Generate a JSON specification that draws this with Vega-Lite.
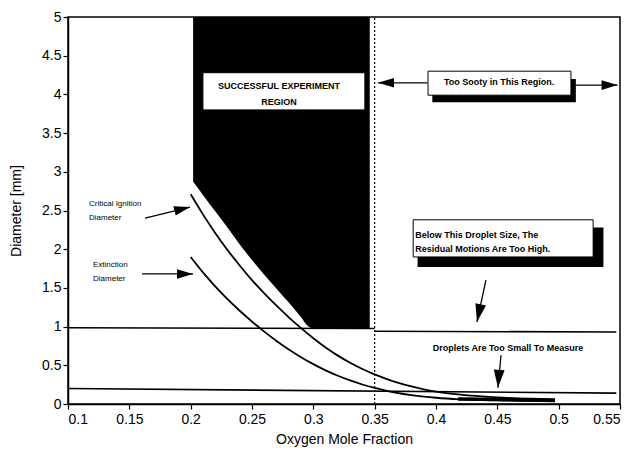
{
  "$schema": "https://vega.github.io/schema/vega-lite/v6.json",
  "width": 552,
  "height": 387,
  "autosize": {"type": "none"},
  "padding": {"left": 68, "top": 17, "right": 18, "bottom": 47},
  "background": "white",
  "config": {
    "view": {"stroke": "black", "strokeWidth": 1.5},
    "font": "Liberation Sans",
    "axis": {
      "grid": false,
      "labelFont": "Liberation Sans",
      "labelFontSize": 14,
      "labelColor": "black",
      "titleFont": "Liberation Sans",
      "titleFontSize": 14,
      "titleFontWeight": "normal",
      "titleColor": "black",
      "domainColor": "black",
      "domainWidth": 1.5,
      "tickColor": "black",
      "tickSize": 5,
      "tickWidth": 1.2
    }
  },
  "datasets": {
    "region": [
      {"x": 0.202, "y": 5, "y2": 2.87},
      {"x": 0.21, "y": 5, "y2": 2.7},
      {"x": 0.22, "y": 5, "y2": 2.49},
      {"x": 0.23, "y": 5, "y2": 2.28},
      {"x": 0.24, "y": 5, "y2": 2.06},
      {"x": 0.25, "y": 5, "y2": 1.86},
      {"x": 0.26, "y": 5, "y2": 1.67},
      {"x": 0.27, "y": 5, "y2": 1.49},
      {"x": 0.28, "y": 5, "y2": 1.31},
      {"x": 0.29, "y": 5, "y2": 1.12},
      {"x": 0.296, "y": 5, "y2": 1.0},
      {"x": 0.299, "y": 5, "y2": 0.98},
      {"x": 0.346, "y": 5, "y2": 0.98}
    ],
    "curves": [
      {"curve": "Critical Ignition", "x": 0.2, "y": 2.71},
      {"curve": "Critical Ignition", "x": 0.21, "y": 2.45},
      {"curve": "Critical Ignition", "x": 0.22, "y": 2.21},
      {"curve": "Critical Ignition", "x": 0.23, "y": 1.99},
      {"curve": "Critical Ignition", "x": 0.24, "y": 1.79},
      {"curve": "Critical Ignition", "x": 0.25, "y": 1.6},
      {"curve": "Critical Ignition", "x": 0.26, "y": 1.43},
      {"curve": "Critical Ignition", "x": 0.27, "y": 1.27},
      {"curve": "Critical Ignition", "x": 0.28, "y": 1.12},
      {"curve": "Critical Ignition", "x": 0.29, "y": 0.98},
      {"curve": "Critical Ignition", "x": 0.3, "y": 0.85},
      {"curve": "Critical Ignition", "x": 0.31, "y": 0.73},
      {"curve": "Critical Ignition", "x": 0.32, "y": 0.625},
      {"curve": "Critical Ignition", "x": 0.33, "y": 0.533},
      {"curve": "Critical Ignition", "x": 0.34, "y": 0.452},
      {"curve": "Critical Ignition", "x": 0.35, "y": 0.382},
      {"curve": "Critical Ignition", "x": 0.36, "y": 0.322},
      {"curve": "Critical Ignition", "x": 0.37, "y": 0.271},
      {"curve": "Critical Ignition", "x": 0.38, "y": 0.227},
      {"curve": "Critical Ignition", "x": 0.39, "y": 0.19},
      {"curve": "Critical Ignition", "x": 0.4, "y": 0.16},
      {"curve": "Critical Ignition", "x": 0.42, "y": 0.12},
      {"curve": "Critical Ignition", "x": 0.45, "y": 0.085},
      {"curve": "Critical Ignition", "x": 0.497, "y": 0.06},
      {"curve": "Extinction", "x": 0.2, "y": 1.9},
      {"curve": "Extinction", "x": 0.21, "y": 1.7},
      {"curve": "Extinction", "x": 0.22, "y": 1.52},
      {"curve": "Extinction", "x": 0.23, "y": 1.355},
      {"curve": "Extinction", "x": 0.24, "y": 1.205},
      {"curve": "Extinction", "x": 0.25, "y": 1.065},
      {"curve": "Extinction", "x": 0.26, "y": 0.935},
      {"curve": "Extinction", "x": 0.27, "y": 0.815},
      {"curve": "Extinction", "x": 0.28, "y": 0.705},
      {"curve": "Extinction", "x": 0.29, "y": 0.605},
      {"curve": "Extinction", "x": 0.3, "y": 0.515},
      {"curve": "Extinction", "x": 0.31, "y": 0.435},
      {"curve": "Extinction", "x": 0.32, "y": 0.365},
      {"curve": "Extinction", "x": 0.33, "y": 0.305},
      {"curve": "Extinction", "x": 0.34, "y": 0.252},
      {"curve": "Extinction", "x": 0.35, "y": 0.207},
      {"curve": "Extinction", "x": 0.36, "y": 0.169},
      {"curve": "Extinction", "x": 0.37, "y": 0.139},
      {"curve": "Extinction", "x": 0.38, "y": 0.115},
      {"curve": "Extinction", "x": 0.39, "y": 0.096},
      {"curve": "Extinction", "x": 0.4, "y": 0.081},
      {"curve": "Extinction", "x": 0.42, "y": 0.061},
      {"curve": "Extinction", "x": 0.45, "y": 0.046},
      {"curve": "Extinction", "x": 0.497, "y": 0.035}
    ],
    "thick": [
      {"x": 0.418, "y": 0.065},
      {"x": 0.497, "y": 0.05}
    ],
    "hlines": [
      {"x": 0.1, "y": 0.985, "x2": 0.35, "y2": 0.975},
      {"x": 0.35, "y": 0.94, "x2": 0.547, "y2": 0.93},
      {"x": 0.1, "y": 0.2, "x2": 0.547, "y2": 0.14}
    ],
    "vline": [
      {"x": 0.35, "y": 0, "y2": 5}
    ],
    "shadows": [
      {"box": "sooty", "x": 0.397, "x2": 0.514, "y": 3.9, "y2": 4.2},
      {"box": "below", "x": 0.385, "x2": 0.5365, "y": 1.77, "y2": 2.28}
    ],
    "boxes": [
      {"box": "success", "x": 0.21, "x2": 0.342, "y": 3.8, "y2": 4.28},
      {"box": "sooty", "x": 0.3935, "x2": 0.51, "y": 3.99, "y2": 4.3},
      {"box": "below", "x": 0.3814, "x2": 0.5281, "y": 1.9, "y2": 2.38}
    ],
    "boldCentered": [
      {"label": "SUCCESSFUL EXPERIMENT", "x": 0.272, "y": 4.11},
      {"label": "REGION", "x": 0.272, "y": 3.9},
      {"label": "Too Sooty in This Region.", "x": 0.4515, "y": 4.16},
      {"label": "Droplets Are Too Small To Measure", "x": 0.4587, "y": 0.72}
    ],
    "boldLeft": [
      {"label": "Below This Droplet Size, The", "x": 0.383, "y": 2.18},
      {"label": "Residual Motions Are Too High.", "x": 0.383, "y": 2.0}
    ],
    "smallLeft": [
      {"label": "Critical Ignition", "x": 0.1171, "y": 2.58},
      {"label": "Diameter", "x": 0.1171, "y": 2.4},
      {"label": "Extinction", "x": 0.1204, "y": 1.8},
      {"label": "Diameter", "x": 0.1204, "y": 1.61}
    ],
    "arrows": [
      {"arrow": "crit", "x": 0.1995, "y": 2.545, "x2": 0.1628, "y2": 2.4},
      {"arrow": "ext", "x": 0.2019, "y": 1.68, "x2": 0.1603, "y2": 1.68},
      {"arrow": "sootyL", "x": 0.3527, "y": 4.15, "x2": 0.393, "y2": 4.15},
      {"arrow": "sootyR", "x": 0.548, "y": 4.12, "x2": 0.513, "y2": 4.12},
      {"arrow": "below", "x": 0.4334, "y": 1.06, "x2": 0.4407, "y2": 1.6},
      {"arrow": "small", "x": 0.4505, "y": 0.21, "x2": 0.453, "y2": 0.63}
    ]
  },
  "encoding": {
    "x": {
      "field": "x",
      "type": "quantitative",
      "scale": {"domain": [0.1, 0.55], "nice": false, "zero": false},
      "axis": {
        "title": "Oxygen Mole Fraction",
        "values": [0.1, 0.15, 0.2, 0.25, 0.3, 0.35, 0.4, 0.45, 0.5, 0.55],
        "format": "~g",
        "labelPadding": 3,
        "titlePadding": 6
      }
    },
    "y": {
      "field": "y",
      "type": "quantitative",
      "scale": {"domain": [0, 5], "nice": false, "zero": false},
      "axis": {
        "title": "Diameter [mm]",
        "values": [0, 0.5, 1, 1.5, 2, 2.5, 3, 3.5, 4, 4.5, 5],
        "format": "~g",
        "labelPadding": 2,
        "titlePadding": 18
      }
    }
  },
  "layer": [
    {
      "data": {"name": "region"},
      "mark": {"type": "area", "color": "black", "opacity": 1, "interpolate": "monotone"},
      "encoding": {"y2": {"field": "y2"}}
    },
    {
      "data": {"name": "hlines"},
      "mark": {"type": "rule", "color": "black", "strokeWidth": 1.6},
      "encoding": {"x2": {"field": "x2"}, "y2": {"field": "y2"}}
    },
    {
      "data": {"name": "vline"},
      "mark": {"type": "rule", "color": "black", "strokeWidth": 1.2, "strokeDash": [2, 2]},
      "encoding": {"y2": {"field": "y2"}}
    },
    {
      "data": {"name": "curves"},
      "mark": {"type": "line", "color": "black", "strokeWidth": 1.8, "interpolate": "monotone"},
      "encoding": {"detail": {"field": "curve"}, "order": {"field": "x", "type": "quantitative"}}
    },
    {
      "data": {"name": "thick"},
      "mark": {"type": "line", "color": "black", "strokeWidth": 3.5},
      "encoding": {}
    },
    {
      "data": {"name": "shadows"},
      "mark": {"type": "rect", "color": "black"},
      "encoding": {"x2": {"field": "x2"}, "y2": {"field": "y2"}}
    },
    {
      "data": {"name": "boxes"},
      "mark": {"type": "rect", "fill": "white", "stroke": "black", "strokeWidth": 1},
      "encoding": {"x2": {"field": "x2"}, "y2": {"field": "y2"}}
    },
    {
      "data": {"name": "boldCentered"},
      "mark": {"type": "text", "font": "Liberation Sans", "fontWeight": "bold", "fontSize": 9, "align": "center", "baseline": "middle", "color": "black"},
      "encoding": {"text": {"field": "label"}}
    },
    {
      "data": {"name": "boldLeft"},
      "mark": {"type": "text", "font": "Liberation Sans", "fontWeight": "bold", "fontSize": 9, "align": "left", "baseline": "middle", "color": "black"},
      "encoding": {"text": {"field": "label"}}
    },
    {
      "data": {"name": "smallLeft"},
      "mark": {"type": "text", "font": "Liberation Sans", "fontSize": 8, "align": "left", "baseline": "middle", "color": "black"},
      "encoding": {"text": {"field": "label"}}
    },
    {
      "data": {"name": "arrows"},
      "mark": {"type": "rule", "color": "black", "strokeWidth": 1.3},
      "encoding": {"x2": {"field": "x2"}, "y2": {"field": "y2"}}
    },
    {
      "data": {"name": "arrows"},
      "transform": [{"filter": "datum.arrow === 'ext' || datum.arrow === 'sootyR'"}],
      "mark": {"type": "point", "shape": "M0,0L-2,-0.6L-2,0.6Z", "filled": true, "color": "black", "opacity": 1, "size": 256, "angle": 0},
      "encoding": {}
    },
    {
      "data": {"name": "arrows"},
      "transform": [{"filter": "datum.arrow === 'sootyL'"}],
      "mark": {"type": "point", "shape": "M0,0L-2,-0.6L-2,0.6Z", "filled": true, "color": "black", "opacity": 1, "size": 256, "angle": 180},
      "encoding": {}
    },
    {
      "data": {"name": "arrows"},
      "transform": [{"filter": "datum.arrow === 'crit'"}],
      "mark": {"type": "point", "shape": "M0,0L-2,-0.6L-2,0.6Z", "filled": true, "color": "black", "opacity": 1, "size": 256, "angle": 346},
      "encoding": {}
    },
    {
      "data": {"name": "arrows"},
      "transform": [{"filter": "datum.arrow === 'below'"}],
      "mark": {"type": "point", "shape": "M0,0L-2,-0.6L-2,0.6Z", "filled": true, "color": "black", "opacity": 1, "size": 324, "angle": 102},
      "encoding": {}
    },
    {
      "data": {"name": "arrows"},
      "transform": [{"filter": "datum.arrow === 'small'"}],
      "mark": {"type": "point", "shape": "M0,0L-2,-0.6L-2,0.6Z", "filled": true, "color": "black", "opacity": 1, "size": 324, "angle": 94},
      "encoding": {}
    }
  ]
}
